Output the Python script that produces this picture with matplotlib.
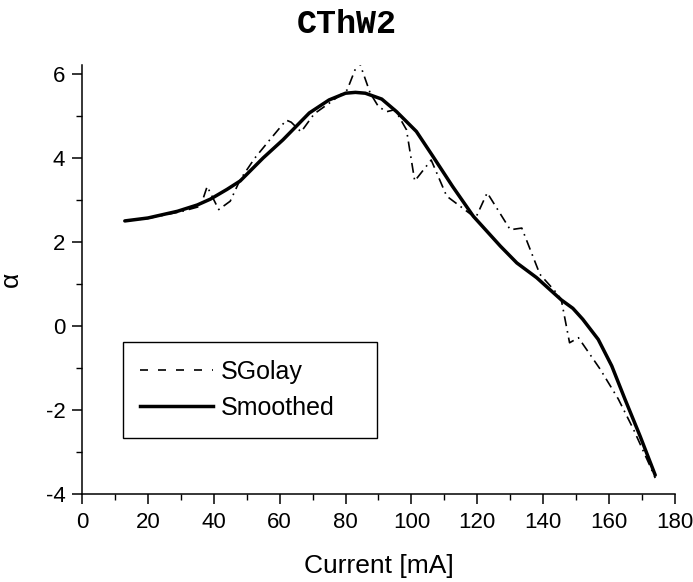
import matplotlib
matplotlib.use('Agg')
import matplotlib.pyplot as plt
from matplotlib.lines import Line2D
from matplotlib.ticker import MultipleLocator

# ---------------------------- data ----------------------------------
# Savitzky-Golay curve (thin dash-dot)
sgolay_x = [13, 20, 30, 36, 38, 41.5, 45, 48, 52.5, 57, 62, 63.5, 66.5, 70.5,
            75, 80.5, 84, 87.5, 90, 92.5, 95, 98.5, 101, 106, 110.7, 115.8,
            119.5, 123, 130, 133.5, 139, 144, 145.5, 148, 150.7, 157.3, 162.8,
            167.4, 172.4, 174]
sgolay_y = [2.50, 2.56, 2.72, 2.85, 3.32, 2.77, 2.97, 3.48, 4.00, 4.43, 4.90,
            4.85, 4.62, 5.05, 5.30, 5.62, 6.32, 5.54, 5.22, 5.10, 5.15, 4.67,
            3.45, 3.95, 3.09, 2.79, 2.57, 3.17, 2.29, 2.33, 1.23, 0.79, 0.62,
            -0.40, -0.28, -1.03, -1.74, -2.46, -3.33, -3.62]

# smoothed curve (thick solid)
smooth_x = [13, 20, 29, 35, 39, 44, 48, 55, 61, 69, 75, 80, 83, 86, 91, 95.5,
            101.5, 106.5, 112.5, 118.8, 127, 132, 138, 145.5, 149, 152, 156.7,
            160.8, 164.8, 169.4, 174]
smooth_y = [2.50, 2.57, 2.73, 2.88, 3.02, 3.25, 3.45, 4.00, 4.43, 5.07, 5.38,
            5.54, 5.56, 5.54, 5.40, 5.10, 4.63, 4.04, 3.32, 2.61, 1.90, 1.50,
            1.15, 0.62, 0.42, 0.16, -0.32, -0.95, -1.74, -2.62, -3.55]

title = 'CThW2'
xlabel = 'Current [mA]'
ylabel = 'α'
labels = ['SGolay', 'Smoothed']

# ---------------------------- plot ----------------------------------
plt.rcParams['font.family'] = ['Liberation Sans', 'DejaVu Sans']
plt.rcParams['axes.unicode_minus'] = False

fig = plt.figure(figsize=(6.93, 5.82), dpi=100)
ax = fig.add_axes([0.1183, 0.1512, 0.8557, 0.7370])

ax.plot(sgolay_x, sgolay_y, color='k', lw=1.2, dashes=(6, 3, 1, 3))
ax.plot(smooth_x, smooth_y, color='k', lw=2.5, solid_capstyle='round',
        solid_joinstyle='round')

ax.set_xlim(0, 180)
ax.set_ylim(-4, 6.21)
ax.xaxis.set_major_locator(MultipleLocator(20))
ax.xaxis.set_minor_locator(MultipleLocator(10))
ax.yaxis.set_major_locator(MultipleLocator(2))
ax.yaxis.set_minor_locator(MultipleLocator(1))

for s in ['top', 'right']:
    ax.spines[s].set_visible(False)
for s in ['left', 'bottom']:
    ax.spines[s].set_linewidth(1.1)

ax.tick_params(which='major', direction='out', length=7, width=1.1,
               labelsize=16, pad=5)
ax.tick_params(which='minor', direction='out', length=4, width=1.0)
ax.tick_params(axis='x', which='major', pad=6)

ax.set_xlabel(xlabel, fontsize=19, labelpad=15)
ax.set_ylabel(ylabel, fontsize=19, labelpad=16)

fig.suptitle(title, x=0.5, y=0.985, fontsize=24, fontweight='bold',
             family='Liberation Mono')

handles = [Line2D([], [], color='k', lw=1.2, dashes=(4.8, 6)),
           Line2D([], [], color='k', lw=2.5)]
leg = ax.legend(handles, labels, loc='upper left',
                bbox_to_anchor=(0.0691, 0.1329, 0.4283, 0.2214),
                mode='expand', borderaxespad=0, fontsize=18,
                handlelength=2.9, handletextpad=0.3, labelspacing=0.5,
                borderpad=0.7, fancybox=False, framealpha=1)
leg.get_frame().set_edgecolor('k')
leg.get_frame().set_linewidth(1.0)

fig.savefig('out.png', dpi=100)
